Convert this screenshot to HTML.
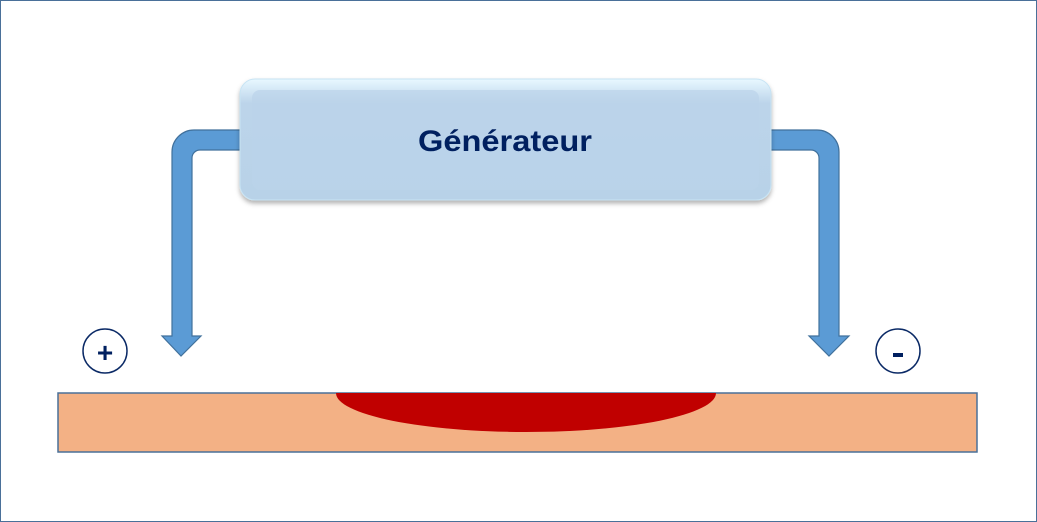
<!DOCTYPE html>
<html><head><meta charset="utf-8"><style>
body{margin:0;background:#fff}
svg{display:block}
text{font-family:"Liberation Sans","DejaVu Sans",sans-serif}
</style></head><body>
<svg width="1037" height="522" viewBox="0 0 1037 522" xmlns="http://www.w3.org/2000/svg">
<defs>
<linearGradient id="g" x1="0" y1="0" x2="0" y2="1">
<stop offset="0" stop-color="#e8f8ff"/><stop offset="0.2" stop-color="#bcd4ea"/><stop offset="1" stop-color="#b8d2e8"/>
</linearGradient>
<filter id="s" x="-5%" y="-10%" width="110%" height="130%"><feDropShadow dx="0" dy="3" stdDeviation="2.5" flood-color="#000" flood-opacity="0.3"/></filter>
</defs>
<rect x="0.5" y="0.5" width="1036" height="521" fill="#fff" stroke="#4a7099"/>
<path d="M245 130 H194 A22 22 0 0 0 172 152 V336 H162 L181 356 L201 336 H192 V158 A8 8 0 0 1 200 150 H245 Z" fill="#5b9bd5" stroke="#41719c" stroke-width="1.2"/>
<path d="M766 130 H817 A22 22 0 0 1 839 152 V336 H849 L829 356 L809 336 H819 V158 A8 8 0 0 0 811 150 H766 Z" fill="#5b9bd5" stroke="#41719c" stroke-width="1.2"/>
<rect x="240" y="79" width="531" height="121" rx="15" fill="url(#g)" stroke="#c8e4f4" filter="url(#s)"/>
<rect x="252" y="90" width="507" height="100" rx="8" fill="#bad3e9" opacity="0.7"/>
<text x="505" y="151" text-anchor="middle" font-size="30" font-weight="bold" fill="#002060" textLength="174" lengthAdjust="spacingAndGlyphs">Générateur</text>
<rect x="58" y="393" width="919" height="59" fill="#f3b185" stroke="#4a7099" stroke-width="1.5"/>
<path d="M336 393 H716 A190 39 0 0 1 336 393 Z" fill="#c00000"/>
<circle cx="105" cy="351" r="22" fill="#fff" stroke="#0b2a66" stroke-width="1.5"/>
<text x="105" y="362" text-anchor="middle" font-size="28" font-weight="bold" fill="#002060">+</text>
<circle cx="898" cy="351" r="22" fill="#fff" stroke="#0b2a66" stroke-width="1.5"/>
<rect x="893" y="353" width="10" height="4" fill="#002060"/>
<text x="898" y="360" text-anchor="middle" font-size="1" fill="#002060">-</text>
</svg>
</body></html>
